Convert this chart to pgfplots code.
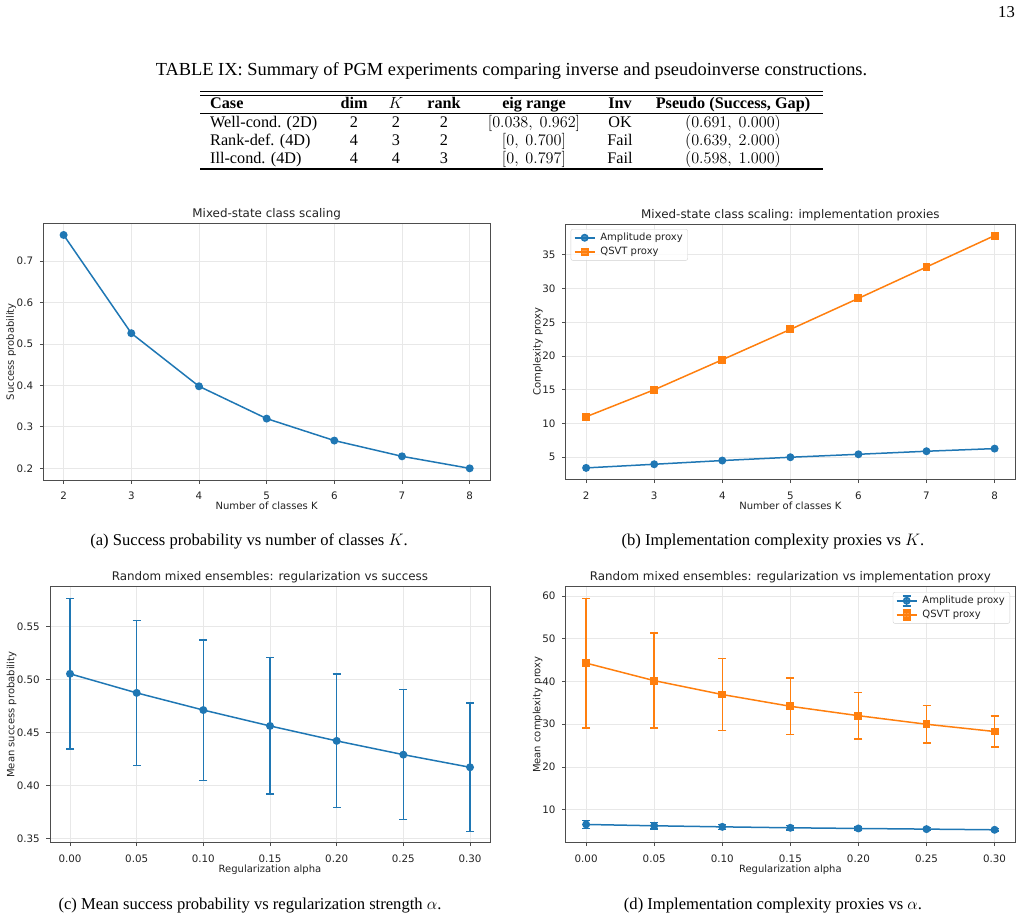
\RequirePackage{fix-cm}
\documentclass[border=0pt]{standalone}
\usepackage[no-math]{fontspec}
\setmainfont{Liberation Serif}
\newfontfamily\dejavu{DejaVu Sans}
\usepackage{pgfplots}
\pgfplotsset{compat=1.18}

\definecolor{mplblue}{HTML}{1F77B4}
\definecolor{mplorange}{HTML}{FF7F0E}
\definecolor{spinec}{HTML}{4D4D4D}
\definecolor{gridc}{HTML}{E8E8E8}
\definecolor{textc}{HTML}{222222}
\definecolor{legc}{HTML}{D0D0D0}

\newcommand\capfont{\fontsize{16.6}{20}\selectfont}
\newcommand\tcapfont{\fontsize{18.4}{22}\selectfont}
\newcommand\tabfont{\fontsize{16.2}{19}\selectfont}
\newcommand\plotfont{\dejavu\fontsize{10}{12}\selectfont}
\newcommand\tickfont{\dejavu\fontsize{10.3}{12}\selectfont}
\newcommand\titlefont{\dejavu\fontsize{11.9}{14}\selectfont}

\pgfplotsset{
  mpl/.style={
    scale only axis,
    axis line style={draw=spinec, line width=0.8pt},
    every tick/.style={draw=spinec, line width=0.8pt},
    tick align=outside, major tick length=3.5pt,
    tick pos=left,
    grid=major, major grid style={draw=gridc, line width=0.8pt},
    scaled ticks=false,
    tick label style={font=\tickfont, text=textc, /pgf/number format/assume math mode=true},
    xticklabel style={anchor=base, yshift=-16pt, inner sep=0pt},
    yticklabel style={anchor=east, xshift=-6.5pt, inner sep=0pt},
    label style={font=\plotfont, text=textc},
    xlabel style={at={(axis description cs:0.5,0)}, anchor=base, yshift=-29.8pt},
    title style={font=\titlefont, text=textc, at={(axis description cs:0.5,1)}, anchor=base, yshift=0pt},
    legend cell align=left,
    legend style={font=\plotfont, text=textc, draw=legc, fill=white, fill opacity=0.8,
      text opacity=1, rounded corners=2pt, inner xsep=3pt, inner ysep=2pt, row sep=1.2pt,
      /tikz/every odd column/.append style={column sep=3pt}},
    every axis plot/.append style={line width=1.5pt},
  },
  errleg/.style={legend image code/.code={
      \draw[mark=none, line width=1.5pt] (10pt,-5pt) -- (10pt,5pt);
      \draw[mark=none, line width=1.5pt] (6pt,-5pt) -- (14pt,-5pt) (6pt,5pt) -- (14pt,5pt);
      \draw[mark repeat=2, mark phase=2] plot coordinates {(0pt,0pt)(10pt,0pt)(20pt,0pt)};}},
  lineleg/.style={legend image code/.code={
      \draw[mark repeat=2, mark phase=2] plot coordinates {(0pt,0pt)(10pt,0pt)(20pt,0pt)};}},
}

% class-count sweep
\pgfplotstableread{
K  succ   amp   qsvt
2  0.763  3.42  11.00
3  0.526  3.96  15.00
4  0.398  4.51  19.45
5  0.320  5.00  23.95
6  0.267  5.44  28.55
7  0.229  5.89  33.20
8  0.200  6.28  37.85
}\classdata

% regularization sweep: mean and standard deviation
\pgfplotstableread{
alpha  succ    succerr  amp   amperr  qsvt   qsvterr
0.00   0.5053  0.0711   6.56  0.90    44.30  15.15
0.05   0.4873  0.0685   6.25  0.75    40.20  11.10
0.10   0.4711  0.0663   6.00  0.60    36.95  8.45
0.15   0.4561  0.0644   5.78  0.50    34.20  6.65
0.20   0.4420  0.0629   5.62  0.40    32.00  5.40
0.25   0.4290  0.0614   5.47  0.35    30.00  4.35
0.30   0.4171  0.0605   5.31  0.30    28.30  3.60
}\regdata

\begin{document}
\begin{tikzpicture}
\useasboundingbox (0,0) rectangle (1031pt,-919pt);

\begin{scope}[x=1pt, y=-1pt]
  \node[anchor=base east, font=\capfont, inner sep=0pt] at (1015,17) {13};
  \node[anchor=base, font=\tcapfont, inner sep=0pt] at (511.5,75)
    {TABLE IX: Summary of PGM experiments comparing inverse and pseudoinverse constructions.};

  % table rules
  \draw[line width=1.2pt] (200,91.5) -- (823,91.5);
  \draw[line width=0.8pt] (200,95) -- (823,95);
  \draw[line width=0.8pt] (200,113) -- (823,113);
  \draw[line width=1.2pt] (200,169) -- (823,169);

  \begin{scope}[every node/.style={font=\tabfont, inner sep=0pt, anchor=base}]
    % header
    \node[anchor=base west] at (210,108) {\textbf{Case}};
    \node at (354,108) {\textbf{dim}};
    \node at (396,108) {$K$};
    \node at (444,108) {\textbf{rank}};
    \node at (534,108) {\textbf{eig range}};
    \node at (620,108) {\textbf{Inv}};
    \node at (733,108) {\textbf{Pseudo (Success, Gap)}};
    % rows
    \node[anchor=base west] at (210,127) {Well-cond. (2D)};
    \node at (354,127) {2};
    \node at (396,127) {2};
    \node at (444,127) {2};
    \node at (534,127) {$[0.038,\ 0.962]$};
    \node at (620,127) {OK};
    \node at (733,127) {$(0.691,\ 0.000)$};
    \node[anchor=base west] at (210,145) {Rank-def. (4D)};
    \node at (354,145) {4};
    \node at (396,145) {3};
    \node at (444,145) {2};
    \node at (534,145) {$[0,\ 0.700]$};
    \node at (620,145) {Fail};
    \node at (733,145) {$(0.639,\ 2.000)$};
    \node[anchor=base west] at (210,163) {Ill-cond. (4D)};
    \node at (354,163) {4};
    \node at (396,163) {4};
    \node at (444,163) {3};
    \node at (534,163) {$[0,\ 0.797]$};
    \node at (620,163) {Fail};
    \node at (733,163) {$(0.598,\ 1.000)$};
  \end{scope}

  % sub-captions
  \begin{scope}[every node/.style={font=\capfont, inner sep=0pt, anchor=base}]
    \node at (249,545) {(a) Success probability vs number of classes $K$.};
    \node at (773,545) {(b) Implementation complexity proxies vs $K$.};
    \node at (250,909) {(c) Mean success probability vs regularization strength $\alpha$.};
    \node at (773,909) {(d) Implementation complexity proxies vs $\alpha$.};
  \end{scope}
\end{scope}

% (a) success probability vs K
\begin{axis}[mpl,
  at={(43.3pt,-480pt)}, anchor=south west,
  width=446.7pt, height=256.7pt,
  xmin=1.7, xmax=8.3, ymin=0.17185, ymax=0.79115,
  xtick={2,...,8}, ytick={0.2,0.3,0.4,0.5,0.6,0.7},
  title={Mixed-state class scaling},
  xlabel={Number of classes K},
  ylabel={Success probability},
  ylabel style={at={(axis description cs:-0.0656,0.5)}, anchor=base},
]
\addplot[mplblue, mark=*, mark size=3.2pt] table[x=K, y=succ] {\classdata};
\end{axis}

% (b) complexity proxies vs K
\begin{axis}[mpl,
  at={(565.7pt,-479.5pt)}, anchor=south west,
  width=449.3pt, height=255.5pt,
  xmin=1.7, xmax=8.3, ymin=1.70, ymax=39.57,
  xtick={2,...,8}, ytick={5,10,...,35},
  title={Mixed-state class scaling: implementation proxies},
  xlabel={Number of classes K},
  ylabel={Complexity proxy},
  ylabel style={at={(axis description cs:-0.0556,0.5)}, anchor=base},
  legend style={at={(axis description cs:0,1)}, anchor=north west, xshift=5pt, yshift=-5pt},
  lineleg,
]
\addplot[mplblue, mark=*, mark size=3.2pt] table[x=K, y=amp] {\classdata};
\addlegendentry{Amplitude proxy}
\addplot[mplorange, mark=square*, mark size=3.2pt] table[x=K, y=qsvt] {\classdata};
\addlegendentry{QSVT proxy}
\end{axis}

% (c) mean success vs regularization
\begin{axis}[mpl,
  at={(50pt,-842.7pt)}, anchor=south west,
  width=440pt, height=256pt,
  xmin=-0.015, xmax=0.315, ymin=0.3459, ymax=0.5875,
  xtick={0,0.05,...,0.30}, ytick={0.35,0.40,...,0.55},
  xticklabel style={/pgf/number format/.cd, fixed, fixed zerofill, precision=2},
  yticklabel style={/pgf/number format/.cd, fixed, fixed zerofill, precision=2},
  title={Random mixed ensembles: regularization vs success},
  xlabel={Regularization alpha},
  ylabel={Mean success probability},
  ylabel style={at={(axis description cs:-0.0811,0.5)}, anchor=base},
]
\addplot[mplblue, mark=*, mark size=3.2pt,
  error bars/.cd, y dir=both, y explicit,
  error bar style={mplblue, line width=1.5pt},
  error mark options={mplblue, line width=1.5pt, mark size=4pt, rotate=90}]
  table[x=alpha, y=succ, y error=succerr] {\regdata};
\end{axis}

% (d) complexity proxies vs regularization
\begin{axis}[mpl,
  at={(565.7pt,-842.7pt)}, anchor=south west,
  width=449.3pt, height=256pt,
  xmin=-0.015, xmax=0.315, ymin=2.29, ymax=62.17,
  xtick={0,0.05,...,0.30}, ytick={10,20,...,60},
  xticklabel style={/pgf/number format/.cd, fixed, fixed zerofill, precision=2},
  title={Random mixed ensembles: regularization vs implementation proxy},
  xlabel={Regularization alpha},
  ylabel={Mean complexity proxy},
  ylabel style={at={(axis description cs:-0.0561,0.5)}, anchor=base},
  legend style={at={(axis description cs:1,1)}, anchor=north east, xshift=-5pt, yshift=-5.3pt},
  errleg,
]
\addplot[mplblue, mark=*, mark size=3.2pt,
  error bars/.cd, y dir=both, y explicit,
  error bar style={mplblue, line width=1.5pt},
  error mark options={mplblue, line width=1.5pt, mark size=4pt, rotate=90}]
  table[x=alpha, y=amp, y error=amperr] {\regdata};
\addlegendentry{Amplitude proxy}
\addplot[mplorange, mark=square*, mark size=3.2pt,
  error bars/.cd, y dir=both, y explicit,
  error bar style={mplorange, line width=1.5pt},
  error mark options={mplorange, line width=1.5pt, mark size=4pt, rotate=90}]
  table[x=alpha, y=qsvt, y error=qsvterr] {\regdata};
\addlegendentry{QSVT proxy}
\end{axis}
\end{tikzpicture}
\end{document}
